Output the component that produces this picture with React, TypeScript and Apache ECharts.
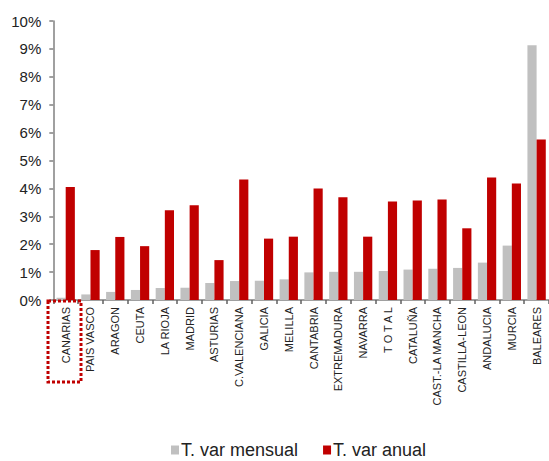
import React, { useEffect, useRef } from "react";
import * as echarts from "echarts";

const categories = [
  "CANARIAS", "PAIS VASCO", "ARAGON", "CEUTA", "LA RIOJA", "MADRID", "ASTURIAS",
  "C.VALENCIANA", "GALICIA", "MELILLA", "CANTABRIA", "EXTREMADURA", "NAVARRA",
  "T O T A L", "CATALUÑA", "CAST.-LA MANCHA", "CASTILLA-LEON", "ANDALUCIA", "MURCIA", "BALEARES",
];
const mensual = [0.08, 0.2, 0.29, 0.36, 0.43, 0.44, 0.61, 0.68, 0.69, 0.74, 0.99, 1.01, 1.01, 1.04, 1.09, 1.12, 1.15, 1.34, 1.95, 9.13];
const anual = [4.05, 1.79, 2.26, 1.93, 3.22, 3.4, 1.43, 4.32, 2.2, 2.27, 4.0, 3.68, 2.27, 3.53, 3.57, 3.6, 2.57, 4.39, 4.18, 5.75];
const seriesNames = ["T. var mensual", "T. var anual"];

export default function App() {
  const ref = useRef<HTMLDivElement>(null);
  useEffect(() => {
    const chart = echarts.init(ref.current!, null, { renderer: "svg" });
    const font = "'Liberation Sans', Arial, sans-serif";
    chart.setOption({
      animation: false,
      grid: { left: 53.3, top: 21, width: 498.6, bottom: 161 },
      legend: {
        data: seriesNames,
        left: 171,
        top: 441,
        padding: 0,
        itemWidth: 8,
        itemHeight: 9,
        itemGap: 25,
        icon: "rect",
        textStyle: { fontFamily: font, fontSize: 18, color: "#222", padding: [0, 0, 0, -3] },
      },
      xAxis: {
        type: "category",
        data: categories,
        axisLine: { lineStyle: { color: "#808080", width: 1.5 } },
        axisTick: { show: true, length: 4, lineStyle: { color: "#606060", width: 1.5 } },
        axisLabel: {
          rotate: 90,
          interval: 0,
          margin: 7,
          fontFamily: font,
          fontSize: 11,
          color: "#222",
        },
      },
      yAxis: {
        type: "value",
        min: 0,
        max: 10,
        interval: 1,
        splitLine: { show: false },
        axisLine: { show: true, lineStyle: { color: "#808080", width: 1.5 } },
        axisTick: { show: true, length: 4, lineStyle: { color: "#808080", width: 1.5 } },
        axisLabel: {
          formatter: "{value}%",
          margin: 12,
          fontFamily: font,
          fontSize: 15,
          color: "#222",
        },
      },
      series: [
        {
          name: seriesNames[0],
          type: "bar",
          data: mensual,
          barWidth: "37%",
          barGap: "0%",
          itemStyle: { color: "#C0C0C0" },
        },
        {
          name: seriesNames[1],
          type: "bar",
          data: anual,
          barWidth: "37%",
          barGap: "0%",
          itemStyle: { color: "#C00000" },
        },
      ],
      graphic: [
        {
          type: "rect",
          shape: { x: 48, y: 301, width: 33, height: 81 },
          style: { fill: "none", stroke: "#C00000", lineWidth: 3, lineDash: [3, 2] },
          z: 100,
        },
      ],
    });
    return () => chart.dispose();
  }, []);
  return (
    <div
      ref={ref}
      style={{ position: "absolute", left: 0, top: 0, width: 549, height: 461 }}
    />
  );
}
